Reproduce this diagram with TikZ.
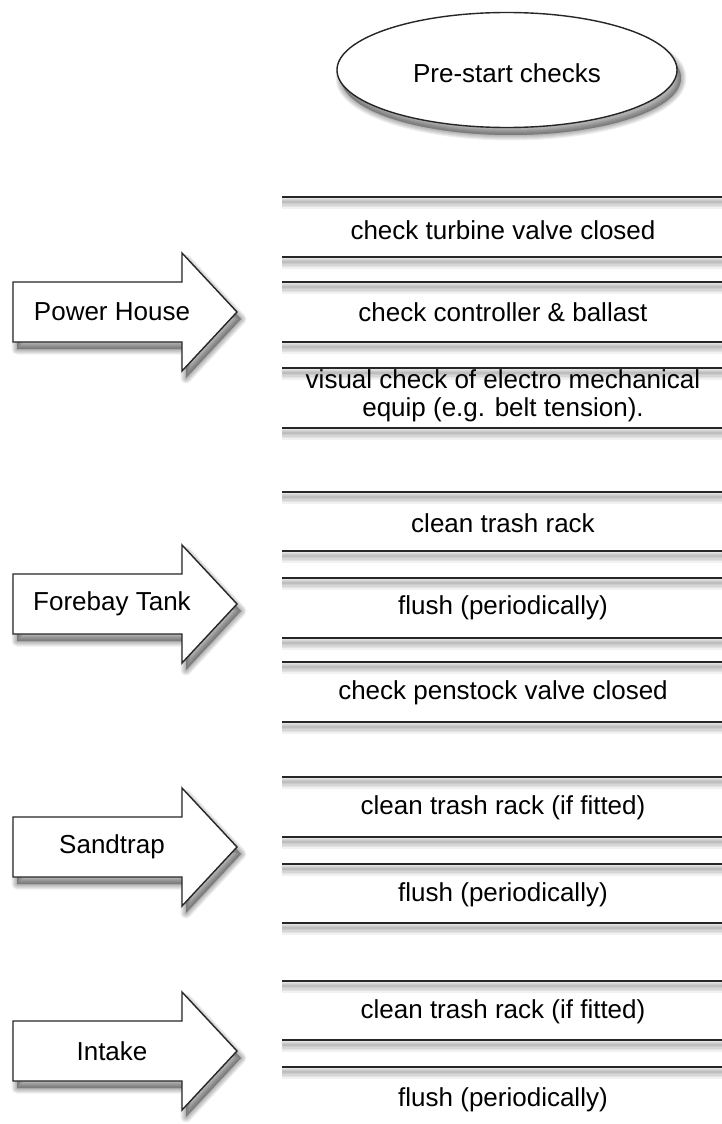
\documentclass[tikz,border=0pt]{standalone}
\usepackage{fontspec}
\setmainfont{Liberation Sans}
\usetikzlibrary{shapes.geometric}
\tikzset{
  lbl/.style={font=\fontsize{26}{28}\selectfont, text=black, inner sep=0pt, align=center},
  hline/.style={line width=1.6pt, black!85},
  hlineshadow/.style={black, opacity=0.055},
  blockshape/.style={draw=black!85, line width=1.4pt, fill=white, line join=miter},
  blockshadow/.style={fill=black, draw=black, opacity=0.06, line join=round}
}
% horizontal rule with soft shadow
\newcommand\srule[2]{%
  \coordinate (#1a) at (282,#2);
  \coordinate (#1b) at (722,#2);
  \foreach \w in {2,4,7,10,13}{%
    \draw[hlineshadow, line width=\w pt] ([yshift=-5pt]#1a) -- ([yshift=-5pt]#1b);}
  \draw[hline] (#1a) -- (#1b);}
% block arrow centred at height #2
\newcommand\flowarrow[3]{%
  \begin{scope}[shift={(0,#2)}]
    \foreach \w in {1,3,5,7,9,11}{%
      \filldraw[blockshadow, line width=\w pt, shift={(4,7)}]
        (13,-30) -- (182,-30) -- (182,-59) -- (237,0) -- (182,59) -- (182,30) -- (13,30) -- cycle;}
    \filldraw[blockshape] (13,-30) -- (182,-30) -- (182,-59) -- (237,0) -- (182,59) -- (182,30) -- (13,30) -- cycle;
  \end{scope}
  \node[lbl] (#1) at (112,#2) {#3};}
\begin{document}
\begin{tikzpicture}[x=1pt,y=-1pt]
\useasboundingbox (0,0) rectangle (722,1124);
\fill[white] (0,0) rectangle (722,1124);

% title ellipse
\foreach \w in {1,3,5,7,9,11}{%
  \filldraw[blockshadow, line width=\w pt] (511,78) ellipse [x radius=170, y radius=57];}
\node[blockshape, ellipse, minimum width=340pt, minimum height=115pt, inner sep=0pt] (title) at (507,70) {};
\node[lbl] (titletxt) at (507,73) {Pre-start checks};

% Power House
\flowarrow{power}{312}{Power House}
\srule{r1}{197}
\node[lbl] (t1) at (503,230) {check turbine valve closed};
\srule{r2}{257}
\srule{r3}{282}
\node[lbl] (t2) at (503,312) {check controller \& ballast};
\srule{r4}{342}
\srule{r5}{368}
\node[lbl] (t3) at (503,396) {visual check of electro mechanical\\equip (e.g. belt tension).};
\srule{r6}{428}

% Forebay Tank
\flowarrow{forebay}{604}{Forebay Tank}
\srule{r7}{492}
\node[lbl] (t4) at (503,523) {clean trash rack};
\srule{r8}{551}
\srule{r9}{578}
\node[lbl] (t5) at (503,608) {flush (periodically)};
\srule{r10}{638}
\srule{r11}{662}
\node[lbl] (t6) at (503,693) {check penstock valve closed};
\srule{r12}{722}

% Sandtrap
\flowarrow{sandtrap}{847}{Sandtrap}
\srule{r13}{777}
\node[lbl] (t7) at (503,808) {clean trash rack (if fitted)};
\srule{r14}{837}
\srule{r15}{864}
\node[lbl] (t8) at (503,895) {flush (periodically)};
\srule{r16}{923}

% Intake
\flowarrow{intake}{1051}{Intake}
\srule{r17}{981}
\node[lbl] (t9) at (503,1012) {clean trash rack (if fitted)};
\srule{r18}{1040}
\srule{r19}{1067}
\node[lbl] (t10) at (503,1100) {flush (periodically)};
\end{tikzpicture}
\end{document}
